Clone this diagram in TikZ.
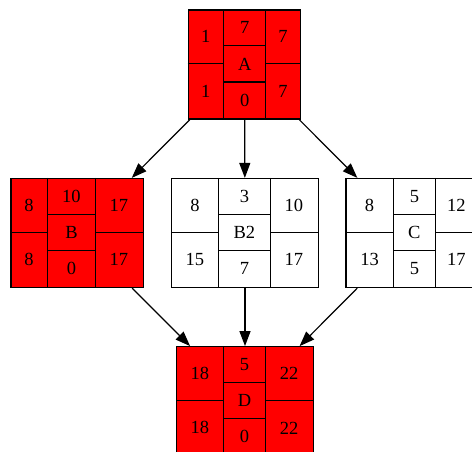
\documentclass[tikz,border=0pt]{standalone}
\usepackage{fontspec}
\setmainfont{Liberation Serif}
\usetikzlibrary{arrows.meta}

\tikzset{
    rec/.style={draw, line width=1.2pt, inner sep=0pt, minimum height=109pt},
    lbl/.style={font=\fontsize{18.5}{20}\selectfont, inner sep=0pt},
    dep/.style={-{Triangle[length=15pt,width=11pt]}, line width=1.2pt}
}

\begin{document}
\begin{tikzpicture}[x=1pt, y=-1pt]
    \useasboundingbox (0,0) rectangle (472,452);
    \clip (0,0) rectangle (472,452);
    % records: name/x/y/column widths/fill/labels
    \foreach \n/\x/\y/\wa/\wb/\wc/\col/\ta/\tb/\tc/\td/\te/\tf/\tg in {A/244.5/64.5/36.3/41.7/34.7/red/1/1/7/A/0/7/7,
        B/77.2/233/37.3/47.4/47.6/red/8/8/10/B/0/17/17,
        B2/245/233/47.6/51.4/47.6/white/8/15/3/B2/7/10/17,
        C/412/233/48.3/41.4/42.3/white/8/13/5/C/5/12/17,
        D/245/401.2/47.6/41.7/47.3/red/18/18/5/D/0/22/22}
    {
        \node[rec, fill=\col, minimum width={\wa pt+\wb pt+\wc pt}] (\n) at (\x,\y) {};
        \begin{scope}[shift={(\n.north west)}]
            \draw[line width=1.2pt] (\wa,0) -- (\wa,109) (\wa+\wb,0) -- (\wa+\wb,109);
            \draw[line width=1.2pt] (0,54.5) -- (\wa,54.5) (\wa+\wb,54.5) -- (\wa+\wb+\wc,54.5);
            \draw[line width=1.2pt] (\wa,36.3) -- (\wa+\wb,36.3) (\wa,72.7) -- (\wa+\wb,72.7);
            \node[lbl] at (\wa/2,27.2) {\ta};
            \node[lbl] at (\wa/2,81.8) {\tb};
            \node[lbl] at (\wa+\wb/2,18.2) {\tc};
            \node[lbl] at (\wa+\wb/2,54.5) {\td};
            \node[lbl] at (\wa+\wb/2,90.8) {\te};
            \node[lbl] at (\wa+\wb+\wc/2,27.2) {\tf};
            \node[lbl] at (\wa+\wb+\wc/2,81.8) {\tg};
        \end{scope}
    }
    \draw[dep] (A) -- (B);
    \draw[dep] (A) -- (B2);
    \draw[dep] (A) -- (C);
    \draw[dep] (B) -- (D);
    \draw[dep] (B2) -- (D);
    \draw[dep] (C) -- (D);
\end{tikzpicture}
\end{document}
